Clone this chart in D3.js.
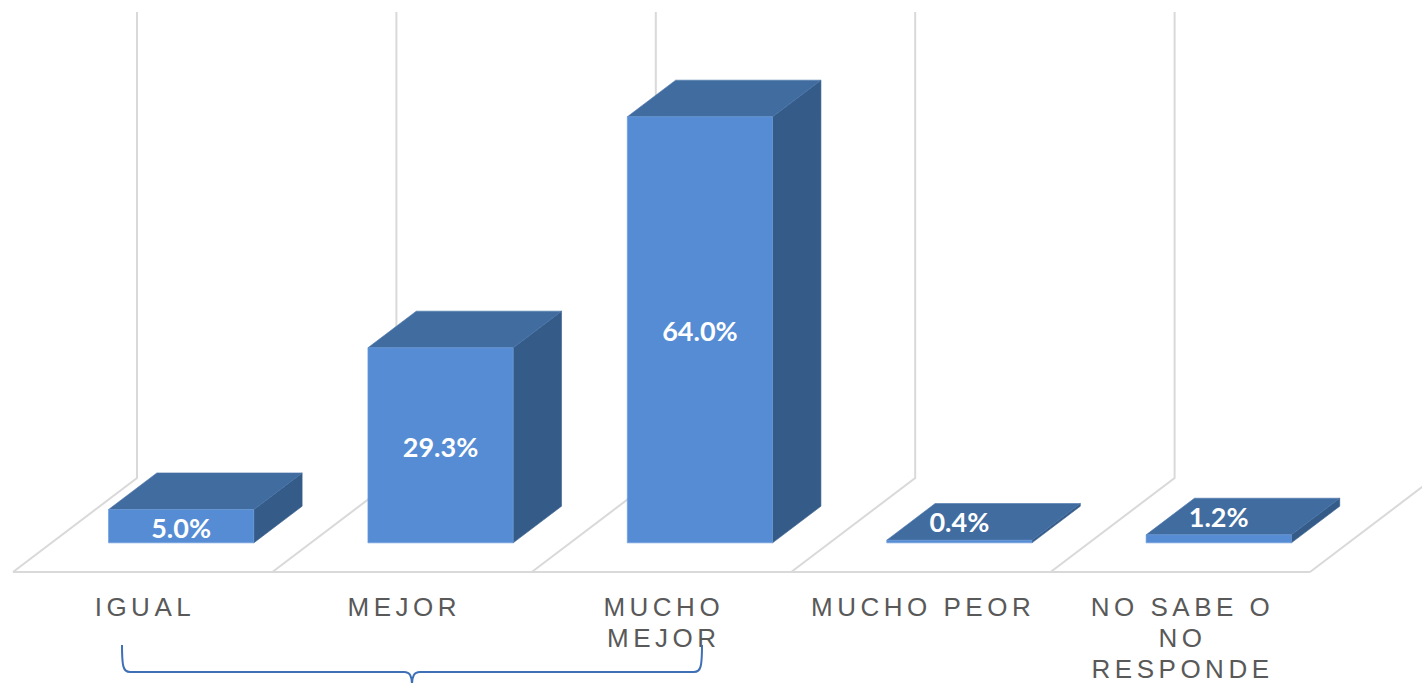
<!DOCTYPE html>
<html>
<head>
<meta charset="utf-8">
<script src="https://cdn.jsdelivr.net/npm/d3@7"></script>
<style>
  html, body { margin: 0; padding: 0; background: #fff; }
  svg { display: block; }
</style>
</head>
<body>
<script>
// data
var categories = ["IGUAL", "MEJOR", "MUCHO MEJOR", "MUCHO PEOR", "NO SABE O NO RESPONDE"];
var values = [5.0, 29.3, 64.0, 0.4, 1.2];
var valueLabels = ["5.0%", "29.3%", "64.0%", "0.4%", "1.2%"];
var tickLines = [["IGUAL"], ["MEJOR"], ["MUCHO", "MEJOR"], ["MUCHO PEOR"], ["NO SABE O", "NO", "RESPONDE"]];
var axisMax = 70;

var w = 1422, h = 683;

// oblique projection: depth goes up and to the right
var depthX = 124, depthY = 94;
var floorY = 572;
var barZ0 = 0.31, barZ1 = 0.70;

var svg = d3.select("body")
  .append("svg")
  .attr("width", w)
  .attr("height", h);

var x = d3.scaleBand()
  .domain(categories)
  .range([13, 1310])
  .paddingInner(0)
  .paddingOuter(0);

var y = d3.scaleLinear()
  .domain([0, axisMax])
  .range([0, 466]);

function px(xv, z) { return xv + z * depthX; }
function py(v, z) { return floorY - z * depthY - y(v); }

var grid = svg.append("g")
  .attr("fill", "none")
  .attr("stroke", "#d9d9d9")
  .attr("stroke-width", 2);

// floor front edge
grid.append("line")
  .attr("x1", x.range()[0]).attr("y1", floorY)
  .attr("x2", x.range()[1]).attr("y2", floorY);

// boundaries: floor diagonals + back wall verticals
var bounds = d3.range(categories.length + 1).map(function(i) {
  return x.range()[0] + i * x.step();
});
grid.selectAll("path.bound")
  .data(bounds)
  .enter()
  .append("path")
  .attr("class", "bound")
  .attr("d", function(b) {
    return "M" + px(b, 0) + "," + py(0, 0) +
      "L" + px(b, 1) + "," + py(0, 1) +
      "L" + px(b, 1) + "," + py(axisMax, 1);
  });

// bars
var barW = x.bandwidth() * 0.56;
var bars = svg.selectAll("g.bar")
  .data(values)
  .enter()
  .append("g")
  .attr("class", "bar");

function pts(arr) {
  return arr.map(function(p) { return p[0] + "," + p[1]; }).join(" ");
}

function x0(i) { return x(categories[i]) + (x.bandwidth() - barW) / 2; }

bars.append("polygon")  // right side
  .attr("fill", "#355b88")
  .attr("stroke", "#3a6291")
  .attr("stroke-width", 0.6)
  .attr("points", function(d, i) {
    var xr = x0(i) + barW;
    return pts([[px(xr, barZ0), py(0, barZ0)], [px(xr, barZ1), py(0, barZ1)],
                [px(xr, barZ1), py(d, barZ1)], [px(xr, barZ0), py(d, barZ0)]]);
  });

bars.append("polygon")  // top
  .attr("fill", "#416ca0")
  .attr("stroke", "#4a76ab")
  .attr("stroke-width", 0.6)
  .attr("points", function(d, i) {
    var xl = x0(i), xr = xl + barW;
    return pts([[px(xl, barZ0), py(d, barZ0)], [px(xr, barZ0), py(d, barZ0)],
                [px(xr, barZ1), py(d, barZ1)], [px(xl, barZ1), py(d, barZ1)]]);
  });

bars.append("polygon")  // front
  .attr("fill", "#568cd4")
  .attr("stroke", "#6a9ada")
  .attr("stroke-width", 0.6)
  .attr("points", function(d, i) {
    var xl = x0(i), xr = xl + barW;
    return pts([[px(xl, barZ0), py(0, barZ0)], [px(xr, barZ0), py(0, barZ0)],
                [px(xr, barZ0), py(d, barZ0)], [px(xl, barZ0), py(d, barZ0)]]);
  });

// value labels: on the front face if it is tall enough, else on the top
bars.append("text")
  .text(function(d, i) { return valueLabels[i]; })
  .attr("font-family", "Lato, 'Open Sans', sans-serif")
  .attr("font-weight", 700)
  .attr("font-size", 27)
  .attr("fill", "#ffffff")
  .attr("text-anchor", "middle")
  .attr("dominant-baseline", "central")
  .attr("x", function(d, i) { return px(x0(i) + barW / 2, barZ0); })
  .attr("y", function(d, i) {
    var hFront = y(d);
    if (hFront > 20) return py(d / 2, barZ0) + 1;
    return py(d, (barZ0 + barZ1) / 2);
  });

// category labels
var ls = 4.5;
var labels = svg.selectAll("text.cat")
  .data(categories)
  .enter()
  .append("text")
  .attr("class", "cat")
  .attr("font-family", "'Liberation Sans', Arial, sans-serif")
  .attr("font-size", 26)
  .attr("letter-spacing", ls)
  .attr("fill", "#595959")
  .attr("text-anchor", "middle");

labels.selectAll("tspan")
  .data(function(d, i) { return tickLines[i].map(function(t) { return {t: t, c: d}; }); })
  .enter()
  .append("tspan")
  .attr("x", function(d) { return x(d.c) + x.bandwidth() / 2 + ls / 2; })
  .attr("y", function(d, j) { return 616 + j * 31; })
  .text(function(d) { return d.t; });

// curly brace under the first three categories
var bl = 122, br = 702, bm = 412, bt = 645, bh = 672;
svg.append("path")
  .attr("fill", "none")
  .attr("stroke", "#3f6fb5")
  .attr("stroke-width", 2)
  .attr("d",
    "M" + bl + "," + bt +
    "C" + bl + "," + (bh - 6) + " " + (bl + 1) + "," + bh + " " + (bl + 8) + "," + bh +
    "L" + (bm - 8) + "," + bh +
    "C" + (bm - 2) + "," + bh + " " + bm + "," + (bh + 4) + " " + bm + "," + (bh + 14) +
    "M" + br + "," + bt +
    "C" + br + "," + (bh - 6) + " " + (br - 1) + "," + bh + " " + (br - 8) + "," + bh +
    "L" + (bm + 8) + "," + bh +
    "C" + (bm + 2) + "," + bh + " " + bm + "," + (bh + 4) + " " + bm + "," + (bh + 14));
</script>
</body>
</html>
